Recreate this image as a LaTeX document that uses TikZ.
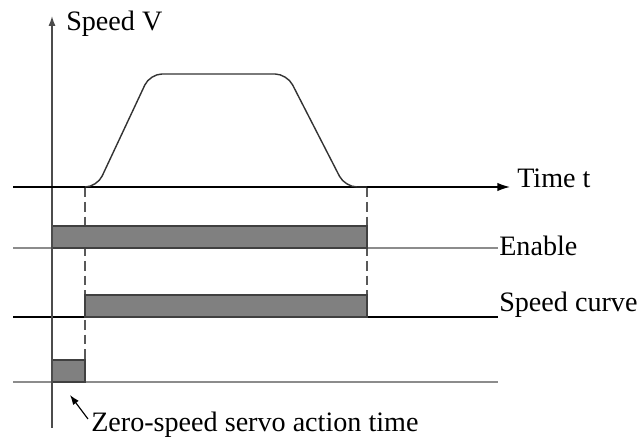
\documentclass[tikz,border=0pt]{standalone}
\usepackage{fontspec}
\setmainfont{Liberation Serif}
\usetikzlibrary{arrows.meta, positioning, calc}

\begin{document}
\begin{tikzpicture}[
    x=0.025cm, y=-0.025cm,
    lbl/.style={font=\fontsize{20}{23}\selectfont, inner sep=0pt, anchor=west},
    axis/.style={line width=1pt, -{Latex[length=9pt,width=6pt]}},
    level/.style={line width=1.3pt},
    bar/.style={fill=black!50, draw=black!75, line width=0.8pt},
    guide/.style={black!65, line width=1pt, dash pattern=on 7pt off 3.5pt}
]
\useasboundingbox (0,0) rectangle (640,438);
% signal levels
\draw[level, black!45] (13,248) -- (498,248);
\draw[level] (13,317) -- (498,317);
\draw[level, black!45] (13,382) -- (498,382);
% guides
\draw[guide] (85,187) -- (85,360);
\draw[guide] (367,187) -- (367,295);
% bars
\draw[bar] (52,226) rectangle (367,248);
\draw[bar] (85,295) rectangle (367,317);
\draw[bar] (52,360) rectangle (85,382);
% axes
\coordinate (vbot) at (52,428);
\coordinate (vtop) at (52,16);
\draw[axis, black!70, -{Latex[length=7pt,width=5pt]}] (vbot) -- (vtop);
\coordinate (tleft) at (13,187);
\coordinate (tright) at (510,187);
\draw[axis] (tleft) -- (tright);
% speed profile
\draw[line width=1pt, black!80, rounded corners=0.3cm]
    (85,187) -- (97,187) -- (150,74) -- (287,74) -- (345,187) -- (367,187);
% labels
\node[lbl] (speed) at (66,24) {Speed V};
\node[lbl] (time) at (517,178) {Time t};
\node[lbl] (enable) at (499,246) {Enable};
\node[lbl] (curve) at (499,305) {Speed curve};
\node[lbl] (zero) at (91,425) {Zero-speed servo action time};
\coordinate (ztip) at (70,395);
\draw[line width=0.8pt, -{Latex[length=7pt,width=5pt]}] (zero.west) ++(-3,-6) -- (ztip);
\end{tikzpicture}
\end{document}
